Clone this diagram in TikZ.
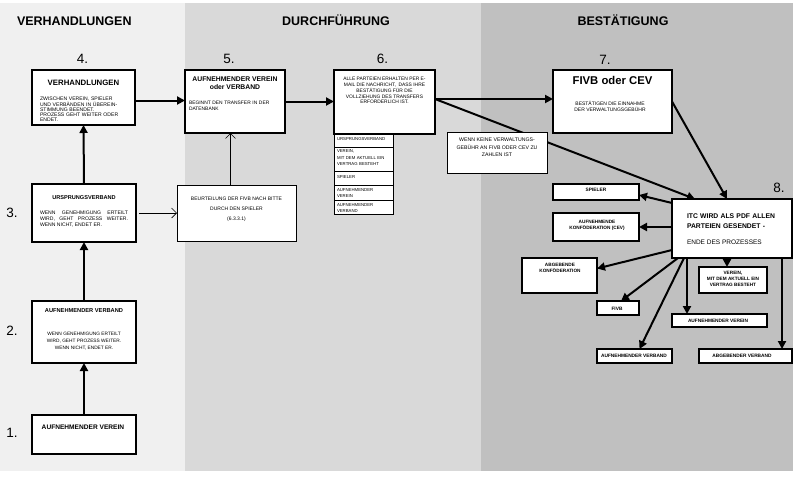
\documentclass[tikz,border=0pt]{standalone}
\usepackage{fontspec}
\setmainfont{Liberation Sans}
\usetikzlibrary{arrows.meta,calc}
\pgfdeclarelayer{panel}\pgfdeclarelayer{lines}\pgfsetlayers{panel,lines,main}
\definecolor{pA}{RGB}{240,240,240}
\definecolor{pB}{RGB}{217,217,217}
\definecolor{pC}{RGB}{192,192,192}
\newcommand{\myfs}[2]{\fontsize{#1}{#2}\selectfont}
\newcommand{\tstrut}{\rule{0pt}{1em}}
\begin{document}
\begin{tikzpicture}[x=1pt,y=-1pt,
  box/.style={draw=black, fill=white, line width=1.2pt, inner sep=0pt, outer sep=0pt, anchor=north west},
  thinbox/.style={box, line width=0.7pt},
  txt/.style={inner sep=0pt, outer sep=0pt},
  big/.style={line width=2pt, -{Triangle[length=8pt,width=8pt]}},
  small/.style={line width=0.6pt, -{Straight Barb[length=5pt,width=10pt]}},
  ttl/.style={txt, anchor=base, font=\bfseries\myfs{12.5}{14}},
  num/.style={txt, anchor=base, font=\myfs{13.5}{15}},
  lab/.style={txt, anchor=base, font=\bfseries\myfs{4.8}{6}},
  labm/.style={txt, anchor=north, align=center, font=\bfseries\myfs{4.7}{6}},
]
\useasboundingbox (0,0) rectangle (800,477);
\begin{pgfonlayer}{panel}
\fill[white] (0,0) rectangle (800,477);
\fill[pA] (0,3) rectangle (185,471);
\fill[pB] (185,3) rectangle (481,471);
\fill[pC] (481,3) rectangle (793,471);
\end{pgfonlayer}

% titles and numbers
\node[ttl, anchor=base west] (h1) at (17,25) {VERHANDLUNGEN};
\node[ttl] (h2) at (336,25) {DURCHFÜHRUNG};
\node[ttl] (h3) at (623,25) {BESTÄTIGUNG};
\node[num] (k4) at (82.5,63) {4.};
\node[num] (k5) at (229,63) {5.};
\node[num] (k6) at (382.5,63) {6.};
\node[num] (k7) at (605,64) {7.};
\node[num] (k8) at (779,192) {8.};
\node[num] (k3) at (12,217) {3.};
\node[num] (k2) at (12,335) {2.};
\node[num] (k1) at (12,437) {1.};

% boxes
\node[box, minimum width=103pt, minimum height=55pt] (n4) at (32,70) {};
\node[box, minimum width=100pt, minimum height=63pt] (n5) at (185,70) {};
\node[box, minimum width=101pt, minimum height=64pt] (n6) at (334,70) {};
\node[box, line width=1pt, minimum width=59pt, minimum height=13pt] (s1) at (334,134) {};
\node[box, line width=1pt, minimum width=59pt, minimum height=24pt] (s2) at (334,147) {};
\node[box, line width=1pt, minimum width=59pt, minimum height=14pt] (s3) at (334,171) {};
\node[box, line width=1pt, minimum width=59pt, minimum height=15pt] (s4) at (334,185) {};
\node[box, line width=1pt, minimum width=59pt, minimum height=14pt] (s5) at (334,200) {};
\node[box, minimum width=119pt, minimum height=63pt] (n7) at (553,70) {};
\node[thinbox, line width=0.6pt, minimum width=100pt, minimum height=41pt] (nw) at (447,132) {};
\node[box, minimum width=120pt, minimum height=59pt] (n8) at (672,199) {};
\node[box, minimum width=86pt, minimum height=16pt] (r1) at (553,184) {};
\node[box, minimum width=86pt, minimum height=28pt] (r2) at (553,213) {};
\node[box, minimum width=75pt, minimum height=35pt] (r3) at (522,258) {};
\node[box, minimum width=42pt, minimum height=14pt] (r4) at (597,301) {};
\node[box, minimum width=68pt, minimum height=26pt] (r5) at (699,267) {};
\node[box, minimum width=95pt, minimum height=13pt] (r6) at (672,314) {};
\node[box, minimum width=75pt, minimum height=14pt] (r7) at (597,349) {};
\node[box, minimum width=93pt, minimum height=14pt] (r8) at (699,349) {};
\node[box, minimum width=104pt, minimum height=58pt] (n3) at (32,184) {};
\node[box, minimum width=104pt, minimum height=62pt] (n2) at (32,301) {};
\node[box, minimum width=104pt, minimum height=39pt] (n1) at (32,415) {};
\node[thinbox, minimum width=119pt, minimum height=56pt] (nb) at (177,185) {};

% texts
\node[txt, anchor=base, font=\bfseries\myfs{7.8}{9}] (t4) at (83.5,85) {VERHANDLUNGEN};
\node[txt, anchor=north west, text width=95pt, align=left, font=\myfs{5.1}{5.3}] (b4) at (40,95.6)
  {\tstrut ZWISCHEN VEREIN, SPIELER\\UND VERBÄNDEN IN ÜBEREIN-\\STIMMUNG BEENDET.\\PROZESS GEHT WEITER ODER\\ENDET.};
\node[txt, anchor=north, align=center, font=\bfseries\myfs{6.8}{8.4}] (t5) at (235,74.5)
  {\tstrut AUFNEHMENDER VEREIN\\oder VERBAND};
\node[txt, anchor=north west, text width=92pt, align=left, font=\myfs{4.9}{6}] (b5) at (189,99.4)
  {\tstrut BEGINNT DEN TRANSFER IN DER\\DATENBANK};
\node[txt, anchor=north, align=center, font=\myfs{4.9}{5.8}] (b6) at (384.5,75.8)
  {\tstrut ALLE PARTEIEN ERHALTEN PER E-\\MAIL DIE NACHRICHT,\ \ DASS IHRE\\BESTÄTIGUNG FÜR DIE\\VOLLZIEHUNG DES TRANSFERS\\ERFORDERLICH IST.};
\node[txt, anchor=base west, font=\myfs{4.3}{6.3}] (u1) at (337,140) {URSPRUNGSVERBAND};
\node[txt, anchor=north west, text width=55pt, align=left, font=\myfs{4.3}{6.3}] (u2) at (337,148.4)
  {\tstrut VEREIN,\\MIT DEM AKTUELL EIN\\VERTRAG BESTEHT};
\node[txt, anchor=base west, font=\myfs{4.3}{6.3}] (u3) at (337,178.7) {SPIELER};
\node[txt, anchor=north west, text width=55pt, align=left, font=\myfs{4.3}{6.3}] (u4) at (337,186.7)
  {\tstrut AUFNEHMENDER\\VEREIN};
\node[txt, anchor=north west, text width=55pt, align=left, font=\myfs{4.3}{6.1}] (u5) at (337,201.7)
  {\tstrut AUFNEHMENDER\\VERBAND};
\node[txt, anchor=base, font=\bfseries\myfs{11.3}{13}] (t7) at (612.5,84) {FIVB oder CEV};
\node[txt, anchor=north, align=center, font=\myfs{5}{6}] (b7) at (610,100)
  {\tstrut BESTÄTIGEN DIE EINNAHME\\DER VERWALTUNGSGEBÜHR};
\node[txt, anchor=north, align=center, font=\myfs{5.2}{7.5}] (bw) at (497,136.5)
  {\tstrut WENN KEINE VERWALTUNGS-\\GEBÜHR AN FIVB ODER CEV ZU\\ZAHLEN IST};
\node[txt, anchor=north, align=center, font=\myfs{5}{10}] (bb) at (236.5,195.7)
  {\tstrut BEURTEILUNG DER FIVB NACH BITTE\\DURCH DEN SPIELER\\(6.3.3.1)};
\node[txt, anchor=base, font=\bfseries\myfs{5.6}{7}] (t3) at (84,199.3) {URSPRUNGSVERBAND};
\node[txt, anchor=north west, text width=88pt, align=justify, font=\myfs{5.1}{6.3}] (b3) at (40,208.9)
  {\tstrut WENN GENEHMIGUNG ERTEILT\linebreak WIRD, GEHT PROZESS WEITER.\linebreak WENN NICHT, ENDET ER.};
\node[txt, anchor=base, font=\bfseries\myfs{5.7}{7}] (t2) at (84,312.3) {AUFNEHMENDER VERBAND};
\node[txt, anchor=north, align=center, font=\myfs{4.8}{6.8}] (b2) at (84,330.9)
  {\tstrut WENN GENEHMIGUNG ERTEILT\\WIRD, GEHT PROZESS WEITER.\\WENN NICHT, ENDET ER.};
\node[txt, anchor=base, font=\bfseries\myfs{6.6}{8}] (t1) at (83,429.3) {AUFNEHMENDER VEREIN};
\node[txt, anchor=north west, text width=110pt, align=left, font=\bfseries\myfs{6.8}{10}] (t8) at (687,211.5)
  {\tstrut ITC WIRD ALS PDF ALLEN\\PARTEIEN GESENDET -};
\node[txt, anchor=base west, font=\myfs{6.5}{8}] (b8) at (687,244) {ENDE DES PROZESSES};
\node[lab] (l1) at (596,191.7) {SPIELER};
\node[labm] (l2) at (597,218.7) {\tstrut AUFNEHMENDE\\KONFÖDERATION (CEV)};
\node[labm] (l3) at (560,262.1) {\tstrut ABGEBENDE\\KONFÖDERATION};
\node[lab] (l4) at (617,310) {FIVB};
\node[labm, font=\bfseries\myfs{4.7}{6.2}] (l5) at (733,269.7) {\tstrut VEREIN,\\MIT DEM AKTUELL EIN\\VERTRAG BESTEHT};
\node[lab] (l6) at (718,322.7) {AUFNEHMENDER VEREIN};
\node[lab] (l7) at (634,357.7) {AUFNEHMENDER VERBAND};
\node[lab] (l8) at (742,357.7) {ABGEBENDER VERBAND};

% connectors
\begin{pgfonlayer}{lines}
\draw[big] (n1.north) -- (n2.south);
\draw[big] (n2.north) -- (n3.south);
\draw[big] (n3.north) -- (n4.south);
\coordinate (c45) at ([yshift=-3pt]n4.east);
\draw[big] (c45) -- (c45 -| n5.west);
\draw[big] (n5.east) -- (n5.east -| n6.west);
\coordinate (c67) at ([yshift=3pt]n6.east);
\draw[big] (c67) -- (c67 -| n7.west);
\draw[big] (c67) -- ([xshift=23pt]n8.north west);
\draw[big] (n7.east) -- ([xshift=55pt]n8.north west);
\draw[small] ([xshift=3pt]n3.east) -- (n3.east -| nb.west);
\coordinate (cb5) at ([xshift=-6pt]nb.north);
\draw[small] (cb5) -- (cb5 |- n5.south);
\draw[big] ([yshift=-4pt]n8.north west) -- ([yshift=-3pt]r1.east);
\draw[big] (n8.west |- r2.east) -- (r2.east);
\draw[big] ([yshift=8pt]n8.south west) -- ([yshift=7pt]r3.east);
\draw[big] ([xshift=6pt]n8.south west) -- ([xshift=3pt]r4.north);
\draw[big] ([xshift=12pt]n8.south west) -- ([xshift=5pt]r7.north);
\coordinate (c86) at ([xshift=15pt]n8.south west);
\draw[big] (c86) -- (c86 |- r6.north);
\coordinate (c85) at ([xshift=55pt]n8.south west);
\draw[big] (c85) -- (c85 |- r5.north);
\coordinate (c88) at ([xshift=110pt]n8.south west);
\draw[big] (c88) -- (c88 |- r8.north);
\end{pgfonlayer}
\end{tikzpicture}
\end{document}
